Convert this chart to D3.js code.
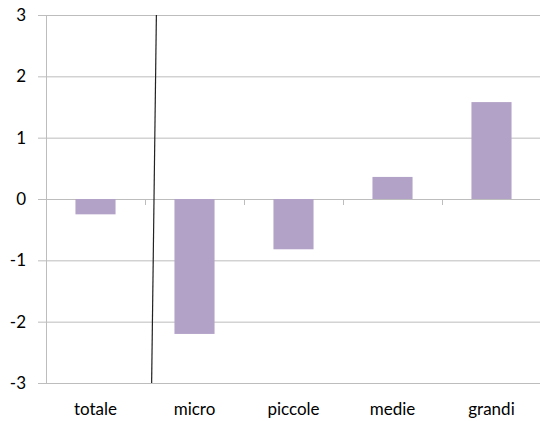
<!DOCTYPE html>
<html>
<head>
<meta charset="utf-8">
<script src="https://cdn.jsdelivr.net/npm/d3@7"></script>
<style>
  body { margin: 0; background: #fff; overflow: hidden; }
  svg { display: block; }
  svg text { font-family: Lato, "Open Sans", sans-serif; fill: #000; }
</style>
</head>
<body>
<div id="chart"></div>
<script>
// categories and values
var categories = ["totale", "micro", "piccole", "medie", "grandi"]
var values = [-0.25, -2.2, -0.82, 0.36, 1.58]
var yTicks = [-3, -2, -1, 0, 1, 2, 3]
// hand drawn divider line, position in category units
var divider = [{pos: 1.115, v: 3}, {pos: 1.067, v: -3}]

var w = 540, h = 421
var plotLeft = 46, plotRight = 541, plotTop = 15, plotBottom = 383

var svg = d3.select("#chart")
  .append("svg")
  .attr("width", w)
  .attr("height", h)

var x = d3.scaleBand().domain(categories).range([plotLeft, plotRight]).paddingInner(0).paddingOuter(0)
var xPos = d3.scaleLinear().domain([0, categories.length]).range([plotLeft, plotRight])
var y = d3.scaleLinear().domain([-3, 3]).range([plotBottom, plotTop])

// gridlines
svg.selectAll(".grid")
  .data(yTicks)
  .join("line")
  .attr("x1", plotLeft - 8)
  .attr("x2", w)
  .attr("y1", function(d) { return y(d) + 0.5 })
  .attr("y2", function(d) { return y(d) + 0.5 })
  .attr("stroke", "#bdbdbd")
  .attr("stroke-width", 1)

// vertical axis line
svg.append("line")
  .attr("x1", plotLeft + 0.5).attr("x2", plotLeft + 0.5)
  .attr("y1", y(3)).attr("y2", y(-3))
  .attr("stroke", "#bdbdbd")

// category ticks on zero line
svg.selectAll(".ctick")
  .data(categories.slice(1))
  .join("line")
  .attr("x1", function(d) { return x(d) + 0.5 })
  .attr("x2", function(d) { return x(d) + 0.5 })
  .attr("y1", y(0))
  .attr("y2", y(0) + 6)
  .attr("stroke", "#bdbdbd")

// bars
var barW = x.bandwidth() * 0.405
svg.selectAll(".bar")
  .data(values)
  .join("rect")
  .attr("x", function(d, i) { return x(categories[i]) + (x.bandwidth() - barW) / 2 })
  .attr("width", barW)
  .attr("y", function(d) { return y(Math.max(0, d)) })
  .attr("height", function(d) { return Math.abs(y(d) - y(0)) })
  .attr("fill", "#b3a2c7")

// y labels
svg.selectAll(".ylab")
  .data(yTicks)
  .join("text")
  .attr("x", 26)
  .attr("y", function(d) { return y(d) + 6 })
  .attr("text-anchor", "end")
  .attr("font-size", 17)
  .text(function(d) { return d })

// category labels
svg.selectAll(".xlab")
  .data(categories)
  .join("text")
  .attr("x", function(d) { return x(d) + x.bandwidth() / 2 })
  .attr("y", 415)
  .attr("text-anchor", "middle")
  .attr("font-size", 17)
  .text(function(d) { return d })

// divider line
var line = d3.line()
  .x(function(d) { return xPos(d.pos) })
  .y(function(d) { return y(d.v) })

svg.append("path")
  .attr("d", line(divider))
  .attr("stroke", "#222")
  .attr("stroke-width", 1.2)
  .attr("fill", "none")
</script>
</body>
</html>
